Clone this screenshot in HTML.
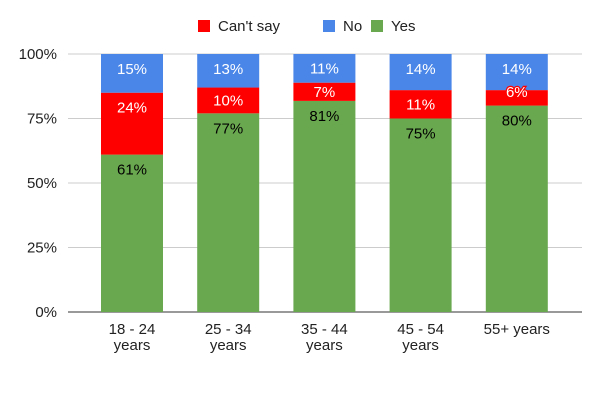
<!DOCTYPE html>
<html><head><meta charset="utf-8"><style>
body{margin:0;background:#fff;font-family:"Liberation Sans",Arial,sans-serif}
</style></head><body>
<svg id="c" width="601" height="400" font-family="Liberation Sans, Arial, sans-serif">
<g>
<rect x="198" y="20" width="12" height="12" fill="#ff0000"/>
<text x="218" y="31" font-size="15" fill="#222">Can't say</text>
<rect x="323" y="20" width="12" height="12" fill="#4a86e8"/>
<text x="343" y="31" font-size="15" fill="#222">No</text>
<rect x="371" y="20" width="12" height="12" fill="#6aa84f"/>
<text x="391" y="31" font-size="15" fill="#222">Yes</text>
</g>
<g id="grid"></g><g id="bars"></g><g id="labels"></g>
</svg>
<script>
const categories=[["18 - 24","years"],["25 - 34","years"],["35 - 44","years"],["45 - 54","years"],["55+ years"]];
const yesVals=[61,77,81,75,80];
const cantVals=[24,10,7,11,6];
const noVals=[15,13,11,14,14];
const yTicks=[0,25,50,75,100];
const NS="http://www.w3.org/2000/svg";
const y0=312,y100=54,xl=68,xr=582,bw=62,step=96.2,bx0=101;
const y=v=>y0-(y0-y100)*v/100;
const x=i=>bx0+i*step;
const grid=document.getElementById('grid'),bars=document.getElementById('bars'),labels=document.getElementById('labels');
function mk(tag,attrs,parent,txt){const e=document.createElementNS(NS,tag);for(const k in attrs)e.setAttribute(k,attrs[k]);if(txt!=null)e.textContent=txt;parent.appendChild(e);return e;}
yTicks.forEach(t=>{
 const l=mk('line',{x1:xl,x2:xr,y1:y(t),y2:y(t),stroke:t===0?'#333':'#ccc','stroke-width':1},grid);
 
 
 const tx=mk('text',{x:57,y:y(t)+5,'text-anchor':'end','font-size':15,fill:'#222'},grid,t+'%');
 
 
});
categories.forEach((c,i)=>{
 const segs=[[yesVals[i],'#6aa84f','#000','yes'],[cantVals[i],'#ff0000','#fff','cant-say'],[noVals[i],'#4a86e8','#fff','no']];
 const total=yesVals[i]+cantVals[i]+noVals[i];
 let base=0;
 segs.forEach(s=>{
  const top=base+s[0]*100/total;
  const yt=y(top),yb=y(base);
  const r=mk('rect',{x:x(i),y:yt,width:bw,height:yb-yt,fill:s[1]},bars);
  
  
  const cy=Math.min(yt+15,(yt+yb)/2);
  const attrs={x:x(i)+bw/2,y:cy+5,'text-anchor':'middle','font-size':15,fill:s[2]};
  if(yb-yt<17){attrs.stroke=s[1];attrs['stroke-width']=2.5;attrs['paint-order']='stroke';attrs.y=yt+7;}
  const t=mk('text',attrs,labels,s[0]+'%');
  
  
  base=top;
 });
 c.forEach((line,j)=>{
  const t=mk('text',{x:x(i)+bw/2,y:334+j*16,'text-anchor':'middle','font-size':15,fill:'#222'},labels,line);
  
  
 });
});
</script>
</body></html>
